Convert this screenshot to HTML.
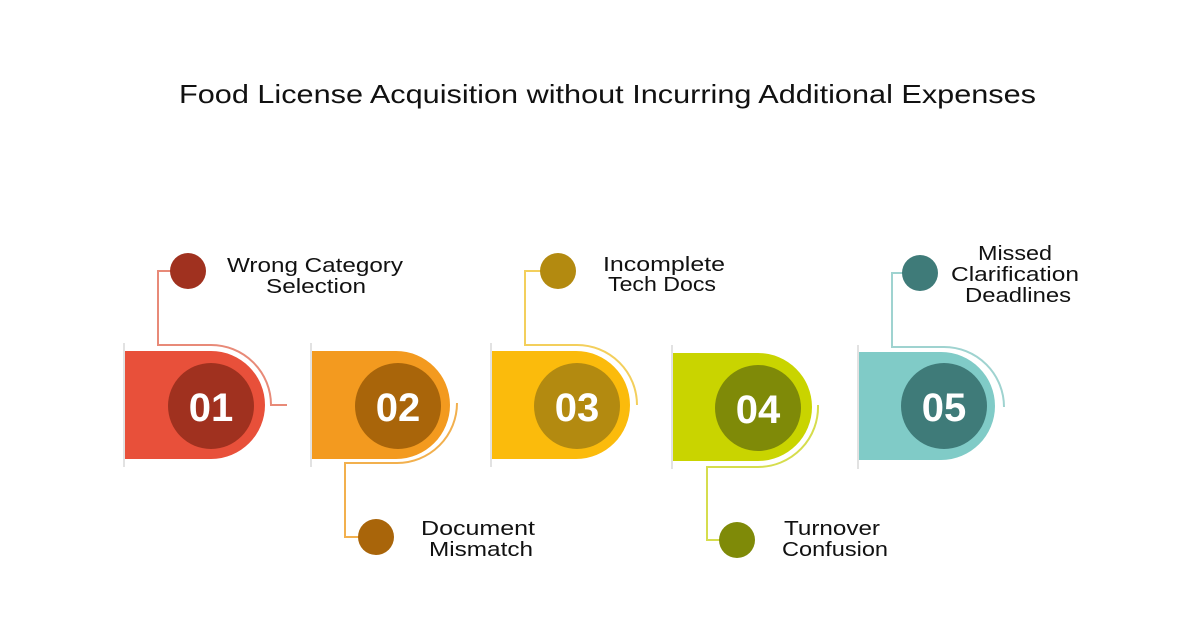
<!DOCTYPE html>
<html><head><meta charset="utf-8"><style>html,body{margin:0;padding:0;background:#fff;}svg{display:block}</style></head><body>
<svg width="1200" height="630" viewBox="0 0 1200 630" xmlns="http://www.w3.org/2000/svg" font-family="Liberation Sans, sans-serif">
<rect width="1200" height="630" fill="#fff"/>
<text x="179" y="103" font-size="26" textLength="857" lengthAdjust="spacingAndGlyphs" fill="#111">Food License Acquisition without Incurring Additional Expenses</text>

<!-- guide lines -->
<g stroke="#d8d8d8" stroke-width="1.5">
<line x1="124" y1="343" x2="124" y2="467"/>
<line x1="311" y1="343" x2="311" y2="467"/>
<line x1="491" y1="343" x2="491" y2="467"/>
<line x1="672" y1="345" x2="672" y2="469"/>
<line x1="858" y1="345" x2="858" y2="469"/>
</g>

<!-- shapes -->
<path d="M125,351 H211 A54,54 0 0 1 211,459 H125 Z" fill="#e8503a"/>
<circle cx="211" cy="406" r="43" fill="#a0311f"/>
<path d="M312,351 H396 A54,54 0 0 1 396,459 H312 Z" fill="#f39a1f"/>
<circle cx="398" cy="406" r="43" fill="#a9650a"/>
<path d="M492,351 H576 A54,54 0 0 1 576,459 H492 Z" fill="#fbbb0c"/>
<circle cx="577" cy="406" r="43" fill="#b38a10"/>
<path d="M673,353 H758 A54,54 0 0 1 758,461 H673 Z" fill="#c9d400"/>
<circle cx="758" cy="408" r="43" fill="#7f8a08"/>
<path d="M859,352 H941 A54,54 0 0 1 941,460 H859 Z" fill="#80cbc7"/>
<circle cx="944" cy="406" r="43" fill="#3f7b79"/>

<g font-weight="bold" fill="#fff" font-size="40" text-anchor="middle">
<text x="211" y="421">01</text>
<text x="398" y="421">02</text>
<text x="577" y="421">03</text>
<text x="758" y="423">04</text>
<text x="944" y="421">05</text>
</g>

<!-- connectors -->
<g fill="none" stroke-width="2">
<path d="M175,271 H158 V345 H211 A60,60 0 0 1 271,405 H287" stroke="#e88a78"/>
<path d="M457,403 A60,60 0 0 1 397,463 H345 V537 H362" stroke="#f2b04e"/>
<path d="M545,271 H525 V345 H577 A60,60 0 0 1 637,405" stroke="#f3cf5c"/>
<path d="M818,405 A60,60 0 0 1 758,467 H707 V540 H723" stroke="#d6dd4d"/>
<path d="M907,273 H892 V347 H944 A60,60 0 0 1 1004,407" stroke="#9fd3d0"/>
</g>
<circle cx="188" cy="271" r="18" fill="#a0311f"/>
<circle cx="376" cy="537" r="18" fill="#a9650a"/>
<circle cx="558" cy="271" r="18" fill="#b38a10"/>
<circle cx="737" cy="540" r="18" fill="#7f8a08"/>
<circle cx="920" cy="273" r="18" fill="#3f7b79"/>

<g font-size="20" fill="#111" text-anchor="middle">
<text x="315" y="272" textLength="176" lengthAdjust="spacingAndGlyphs">Wrong Category</text>
<text x="316" y="293" textLength="100" lengthAdjust="spacingAndGlyphs">Selection</text>
<text x="478" y="535" textLength="114" lengthAdjust="spacingAndGlyphs">Document</text>
<text x="481" y="556" textLength="104" lengthAdjust="spacingAndGlyphs">Mismatch</text>
<text x="664" y="271" textLength="122" lengthAdjust="spacingAndGlyphs">Incomplete</text>
<text x="662" y="291" textLength="108" lengthAdjust="spacingAndGlyphs">Tech Docs</text>
<text x="832" y="535" textLength="96" lengthAdjust="spacingAndGlyphs">Turnover</text>
<text x="835" y="556" textLength="106" lengthAdjust="spacingAndGlyphs">Confusion</text>
<text x="1015" y="260" textLength="74" lengthAdjust="spacingAndGlyphs">Missed</text>
<text x="1015" y="281" textLength="128" lengthAdjust="spacingAndGlyphs">Clarification</text>
<text x="1018" y="302" textLength="106" lengthAdjust="spacingAndGlyphs">Deadlines</text>
</g>
</svg>
</body></html>
